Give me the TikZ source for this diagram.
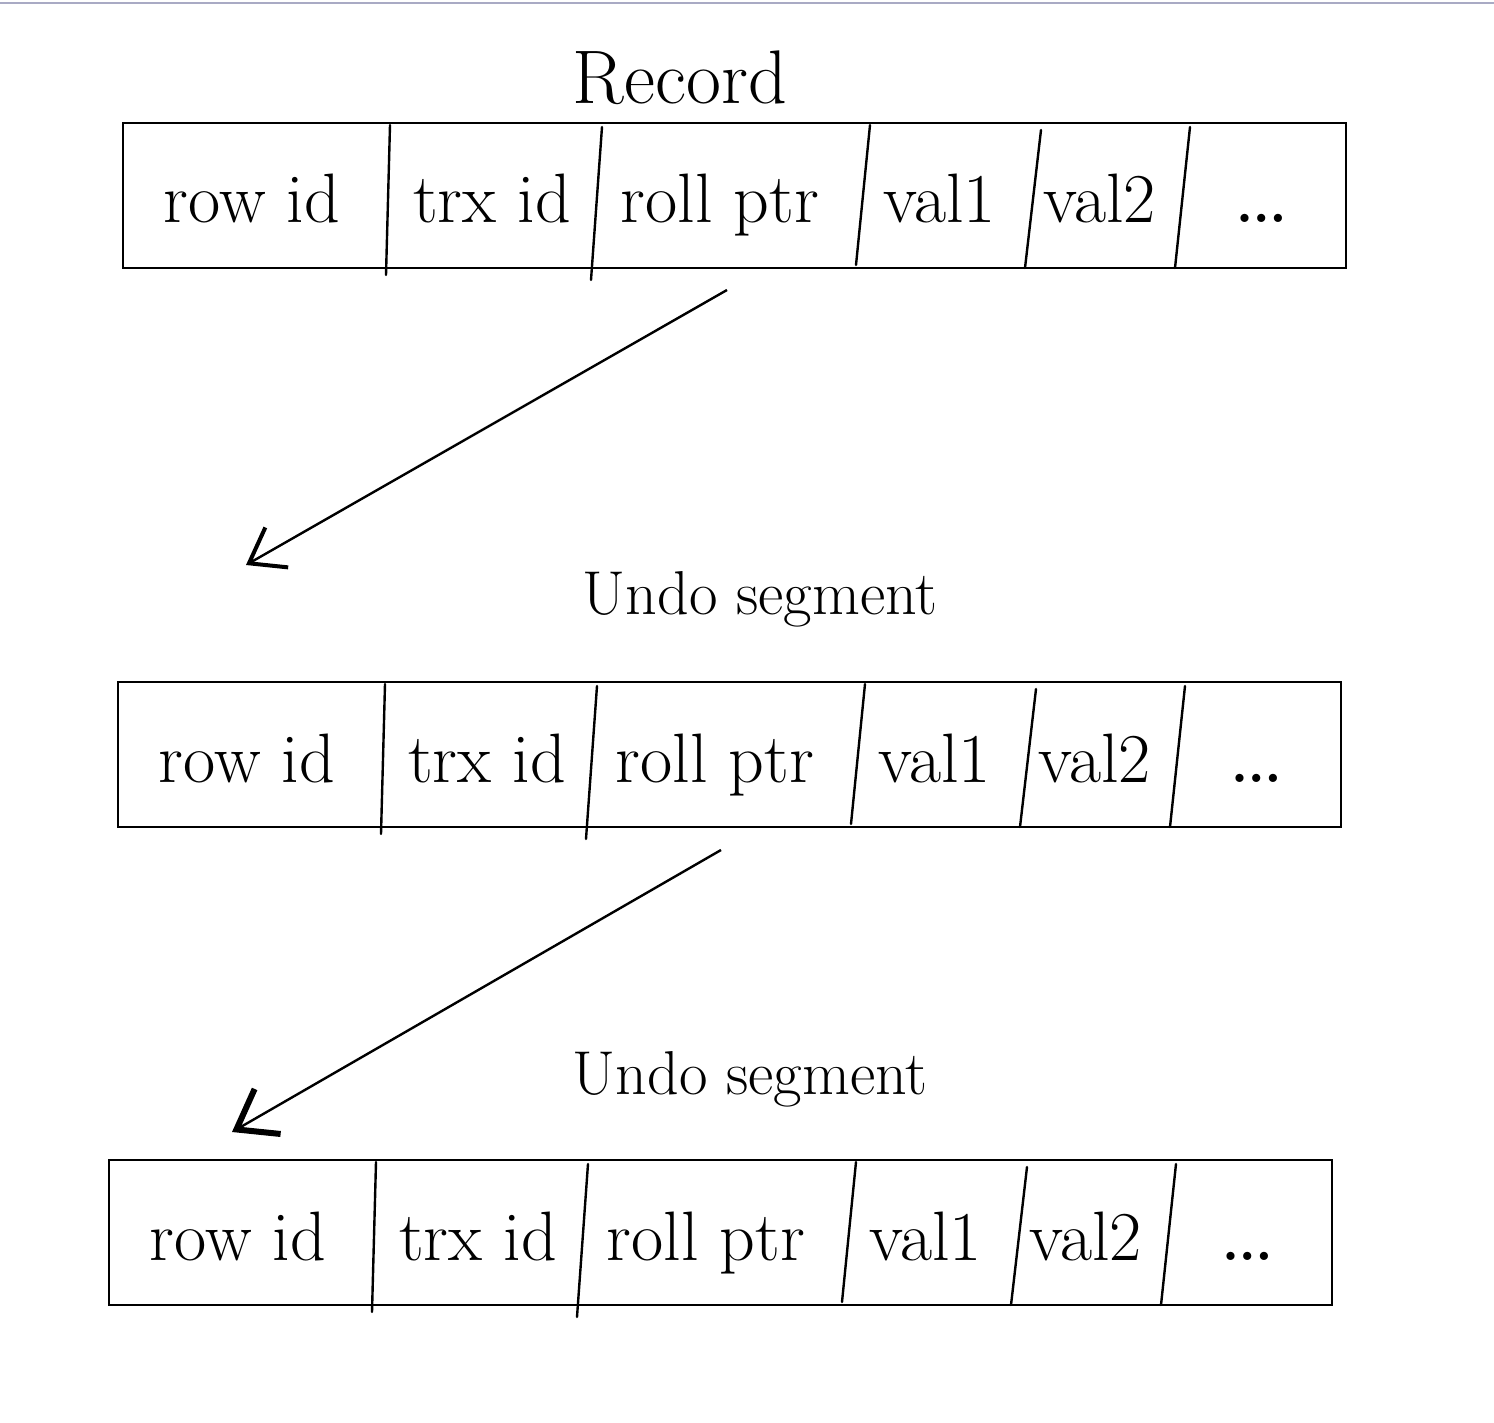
\documentclass[tikz,border=0pt]{standalone}
\usetikzlibrary{arrows.meta}
\definecolor{topline}{HTML}{A9AAC4}
\tikzset{
  recbox/.style={draw=black, line width=1.3pt, minimum width=1223pt, minimum height=145pt, inner sep=0pt},
  divider/.style={draw=black, line width=2.4pt, line cap=round},
  field/.style={anchor=base, font=\fontsize{70}{80}\selectfont, inner sep=0pt},
  title/.style={anchor=base, inner sep=0pt},
  pointer/.style={draw=black, line width=2.4pt, -{Straight Barb[length=32pt, width=46pt, line width=4pt]}},
  pointerb/.style={draw=black, line width=2.4pt, -{Straight Barb[length=36pt, width=52pt, line width=6pt]}}
}
\newcommand{\recrow}[3]{%
  \begin{scope}[shift={(#2,#3)}]
    \node[recbox] (#1) at (611.5,72.5) {};
    \draw[divider] (267,2) -- (263,152);
    \draw[divider] (479,4) -- (468,157);
    \draw[divider] (747,2) -- (733,142);
    \draw[divider] (918,7) -- (902,145);
    \draw[divider] (1067,4) -- (1052,145);
    \node[field] (#1-row) at (129,100) {row id};
    \node[field] (#1-trx) at (369,100) {trx id};
    \node[field] (#1-roll) at (597,100) {roll ptr};
    \node[field] (#1-v1) at (817,100) {val1};
    \node[field] (#1-v2) at (977,100) {val2};
    \node[field, font=\fontsize{100}{110}\selectfont] (#1-dots) at (1139,100) {\dots};
  \end{scope}}
\begin{document}
\begin{tikzpicture}[x=1pt, y=-1pt]
  \useasboundingbox (0,0) rectangle (1494,1423);
  \fill[white] (0,0) rectangle (1494,1423);
  \draw[topline, line width=1.5pt] (0,3) -- (1494,3);

  \node[title, font=\fontsize{76}{84}\selectfont] (rec) at (680,104) {Record};
  \recrow{r1}{123}{123}

  \node[title, font=\fontsize{62}{70}\selectfont] (undo1) at (760,614) {Undo segment};
  \recrow{r2}{118}{682}

  \node[title, font=\fontsize{62}{70}\selectfont] (undo2) at (750,1094) {Undo segment};
  \recrow{r3}{109}{1160}

  \coordinate (a1s) at (727,290);
  \coordinate (a1e) at (246,565);
  \coordinate (a2s) at (721,850);
  \coordinate (a2e) at (232,1132);
  \draw[pointer] (a1s) -- (a1e);
  \draw[pointerb] (a2s) -- (a2e);
\end{tikzpicture}
\end{document}
